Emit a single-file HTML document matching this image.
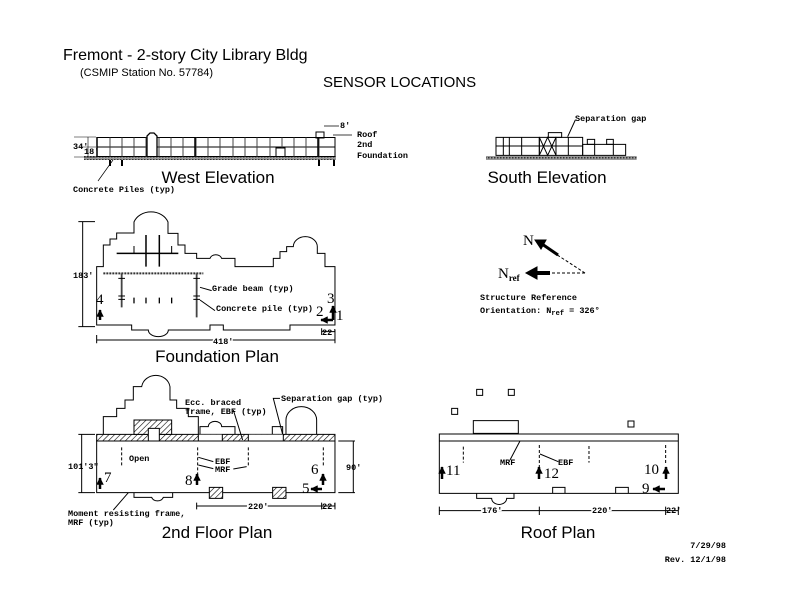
<!DOCTYPE html>
<html><head><meta charset="utf-8"><style>
html,body{margin:0;padding:0;background:#fff}
svg{display:block}
.s{font-family:"Liberation Sans",sans-serif;fill:#000}
.m{font-family:"Liberation Mono",monospace;font-weight:bold;font-size:8.5px;fill:#000}
.n{font-family:"Liberation Serif",serif;font-size:15px;fill:#000}
.z *{vector-effect:non-scaling-stroke}
</style></head><body>
<svg width="792" height="612" viewBox="0 0 792 612" xmlns="http://www.w3.org/2000/svg">
<defs>
<pattern id="h" width="4" height="4" patternUnits="userSpaceOnUse" patternTransform="rotate(45)"><rect width="4" height="4" fill="#fff"/><line x1="0" y1="0" x2="0" y2="4" stroke="#000" stroke-width="1.2"/></pattern>
<pattern id="hz" width="12" height="12" patternUnits="userSpaceOnUse" patternTransform="rotate(45)"><rect width="12" height="12" fill="#fff"/><line x1="0" y1="0" x2="0" y2="12" stroke="#000" stroke-width="3.5"/></pattern>
<pattern id="g" width="3" height="3" patternUnits="userSpaceOnUse"><rect width="3" height="3" fill="#999"/><rect width="1.5" height="1.5" fill="#333"/></pattern>
<pattern id="gz" width="9" height="9" patternUnits="userSpaceOnUse"><rect width="9" height="9" fill="#999"/><rect width="4.5" height="4.5" fill="#333"/></pattern>
<marker id="a" viewBox="0 0 10 10" refX="9" refY="5" markerWidth="3" markerHeight="3" orient="auto"><path d="M0,0L10,5L0,10z" fill="#000"/></marker>
</defs>

<!-- titles -->
<text class="s" x="63" y="60" font-size="16">Fremont - 2-story City Library Bldg</text>
<text class="s" x="80" y="76" font-size="11">(CSMIP Station No. 57784)</text>
<text class="s" x="323" y="87" font-size="15">SENSOR LOCATIONS</text>

<!-- West Elevation -->
<g stroke="#000" fill="none" stroke-width="1">
<rect x="84" y="156" width="252" height="4" fill="url(#g)" stroke="none"/>
<rect x="97" y="137.5" width="238" height="19"/>
<line x1="97" y1="147" x2="335" y2="147"/>
<path d="M110,137.5V156.5M122,137.5V156.5M134,137.5V156.5M146,137.5V156.5M159,137.5V156.5M171,137.5V156.5M183,137.5V156.5M196,137.5V156.5M208,137.5V156.5M220,137.5V156.5M233,137.5V156.5M245,137.5V156.5M257,137.5V156.5M270,137.5V156.5M282,137.5V156.5M294,137.5V156.5M306,137.5V156.5M319,137.5V156.5" stroke="#444"/>
<path d="M147,156V136L150,133H154L157,136V156" fill="#fff" stroke-width="1.3"/>
<rect x="276" y="148" width="9" height="8.5" fill="#fff"/>
<rect x="316" y="132" width="8" height="6"/>
<path d="M110,160V166M122,160V166M319,160V166M334,160V166" stroke-width="2"/>
<path d="M97,137V157M195,137V157M318,138V157" stroke-width="1.5"/>
<path d="M324,126H339M333,135H352" stroke-width="0.8"/>
<path d="M88,137V157M74,137H96M80,147H96M74,157H96" stroke-width="0.6"/>
<line x1="113" y1="160" x2="98" y2="181" stroke-width="0.7"/>
</g>
<text class="m" x="73" y="149">34'</text>
<text class="m" x="84" y="154" font-size="7">18'</text>
<text class="m" x="340" y="128">8'</text>
<text class="m" x="357" y="137">Roof</text>
<text class="m" x="357" y="147">2nd</text>
<text class="m" x="357" y="158">Foundation</text>
<text class="s" x="218" y="183" font-size="17" text-anchor="middle">West Elevation</text>
<text class="m" x="73" y="192">Concrete Piles (typ)</text>

<!-- South elevation -->
<g class="z" transform="translate(470,100) scale(0.3333)" stroke="#000" fill="none" stroke-width="1">
<rect x="48" y="168" width="452" height="12" fill="url(#gz)" stroke="none"/>
<rect x="78" y="112" width="130" height="54"/>
<path d="M100,112V166M118,112V166M155,112V166M78,138H208"/>
<rect x="208" y="112" width="50" height="54"/>
<path d="M208,166L233,112L258,166M208,112L233,166L258,112M208,138H258"/>
<rect x="235" y="98" width="40" height="14"/>
<rect x="258" y="112" width="80" height="54"/>
<path d="M295,112V166M258,138H338"/>
<rect x="338" y="133" width="129" height="33"/>
<rect x="352" y="118" width="22" height="15"/><rect x="410" y="118" width="20" height="15"/>
<path d="M374,133V166M430,133V166"/>
<line x1="316" y1="60" x2="293" y2="110"/>
</g>
<text class="m" x="575" y="121">Separation gap</text>
<text class="s" x="547" y="183" font-size="17" text-anchor="middle">South Elevation</text>

<!-- North arrow -->
<g stroke="#000" fill="none">
<line x1="585" y1="273" x2="545" y2="247" stroke-dasharray="3,2"/>
<line x1="558" y1="255" x2="542" y2="244" stroke-width="3"/>
<path d="M535,240L546,240L541,249z" fill="#000"/>
<line x1="585" y1="273" x2="550" y2="273" stroke-dasharray="3,2"/>
<line x1="550" y1="273" x2="535" y2="273" stroke-width="4"/>
<path d="M526,273L537,267L537,279z" fill="#000"/>
</g>
<text class="n" x="523" y="245">N</text>
<text class="n" x="498" y="278">N<tspan font-size="9" font-weight="bold" dy="3">ref</tspan></text>
<text class="m" x="480" y="300" font-size="9">Structure Reference</text>
<text class="m" x="480" y="313" font-size="9">Orientation: N<tspan font-size="7" dy="2">ref</tspan><tspan dy="-2"> = 326°</tspan></text>

<!-- Foundation Plan -->
<g class="z" transform="translate(60,110) scale(0.3333)" stroke="#000" fill="none" stroke-width="1">
<path d="M110,645V470H130V405H150V387H170V369H222V336A54,45 0 0 1 324,336V370H354V405H375V430H410V445H450A18,14 0 0 1 485,445H525V470H640V445H660V425H680V410H700A36,30 0 0 1 772,410V430H795V470H825V645H690V660H490V645H450V660H325A30,20 0 0 1 265,660H215V645Z" stroke-width="1"/>
<line x1="130" y1="490" x2="430" y2="490" stroke-width="2" stroke-dasharray="2,1" stroke="#333"/>
<line x1="170" y1="430" x2="355" y2="430" stroke-width="1.5"/>
<path d="M258,375V470M298,375V470" stroke-width="1.5"/>
<path d="M222,408V430M335,408V430" stroke-width="1"/>
<path d="M185,490V592M410,490V622" stroke-width="1.8" stroke="#444"/>
<path d="M175,505H195M175,558H195M175,568H195M400,505H420M400,558H420M400,568H420" stroke-width="1"/>
<path d="M222,563V580M258,563V580M298,563V580M335,563V580" stroke-width="1.3"/>
<path d="M420,532L455,542M420,570L465,602" stroke-width="1"/>
<path d="M68,335V650M55,335H105M55,650H105M110,690H825M110,675V700M825,660V700M785,665H825M785,655V675" stroke-width="1"/>
</g>
<text class="m" x="73" y="278">183'</text>
<text class="m" x="212" y="291">Grade beam (typ)</text>
<text class="m" x="216" y="311">Concrete pile (typ)</text>
<text class="m" x="213" y="344" style="paint-order:stroke;stroke:#fff;stroke-width:3">418'</text>
<text class="m" x="322" y="335" font-size="7">22'</text>
<g stroke="#000" stroke-width="2.5" fill="none">
<line x1="100" y1="320" x2="100" y2="310" marker-end="url(#a)"/>
<line x1="333" y1="320" x2="333" y2="306" marker-end="url(#a)"/>
<line x1="333" y1="320" x2="321" y2="320" marker-end="url(#a)"/>
</g>
<text class="n" x="96" y="304">4</text>
<text class="n" x="327" y="303">3</text>
<text class="n" x="316" y="316">2</text>
<text class="n" x="336" y="320">1</text>
<text class="s" x="217" y="362" font-size="17" text-anchor="middle">Foundation Plan</text>

<!-- 2nd Floor Plan -->
<g class="z" transform="translate(60,370) scale(0.3333)" stroke="#000" fill="none" stroke-width="1">
<path d="M130,193V140H170V115H195V90H220V50H245A43,40 0 0 1 330,50V90H350V115H385V140H415V193"/>
<path d="M420,193V170H445A20,16 0 0 1 485,170H525V193M637,193V170H668V193M678,193V150A46,40 0 0 1 770,150V193"/>
<path d="M110,193H825V213H110Z" fill="url(#hz)"/>
<rect x="415" y="194" width="72" height="18" fill="#fff" stroke="none"/>
<rect x="565" y="194" width="105" height="18" fill="#fff" stroke="none"/>
<path d="M415,193V213M487,193V213M565,193V213M670,193V213"/>
<path d="M222,193V150H335V193Z" fill="url(#hz)"/>
<rect x="265" y="175" width="33" height="38" fill="#fff"/>
<rect x="110" y="213" width="715" height="155"/>
<path d="M222,368V382H275A18,14 0 0 0 310,382H338V368"/>
<rect x="448" y="352" width="40" height="33" fill="url(#hz)"/>
<rect x="638" y="352" width="40" height="33" fill="url(#hz)"/>
<path d="M185,232V290M413,232V335M565,232V290M790,232V290" stroke-dasharray="3,2" stroke-width="1"/>
<path d="M415,262L460,275M415,285L460,296M520,297L560,290" stroke-width="1"/>
<path d="M548,210L520,120M668,193L640,85H660" stroke-width="1"/>
<path d="M65,193V368M55,193H105M55,368H105M880,213V368M835,213H885M835,368H885M410,408H785M410,398V418M785,398V418M825,398V418M785,408H825M205,368L160,420" stroke-width="1"/>
</g>
<text class="m" x="185" y="405">Ecc. braced</text>
<text class="m" x="185" y="414">frame, EBF (typ)</text>
<text class="m" x="281" y="401">Separation gap (typ)</text>
<text class="m" x="129" y="461">Open</text>
<text class="m" x="215" y="464" font-size="7">EBF</text>
<text class="m" x="215" y="472" font-size="7">MRF</text>
<text class="m" x="68" y="469">101'3"</text>
<text class="m" x="346" y="470">90'</text>
<text class="m" x="248" y="509" style="paint-order:stroke;stroke:#fff;stroke-width:3">220'</text>
<text class="m" x="322" y="509" font-size="7">22'</text>
<text class="m" x="68" y="516">Moment resisting frame,</text>
<text class="m" x="68" y="525">MRF (typ)</text>
<g stroke="#000" stroke-width="2.5" fill="none">
<line x1="100" y1="489" x2="100" y2="478" marker-end="url(#a)"/>
<line x1="197" y1="485" x2="197" y2="474" marker-end="url(#a)"/>
<line x1="323" y1="485" x2="323" y2="474" marker-end="url(#a)"/>
<line x1="322" y1="489" x2="311" y2="489" marker-end="url(#a)"/>
</g>
<text class="n" x="104" y="482">7</text>
<text class="n" x="185" y="485">8</text>
<text class="n" x="311" y="474">6</text>
<text class="n" x="302" y="493">5</text>
<text class="s" x="217" y="538" font-size="17" text-anchor="middle">2nd Floor Plan</text>

<!-- Roof Plan -->
<g class="z" transform="translate(430,380) scale(0.3333)" stroke="#000" fill="none" stroke-width="1">
<rect x="28" y="162" width="717" height="178"/>
<line x1="28" y1="183" x2="745" y2="183"/>
<rect x="130" y="122" width="135" height="38"/>
<rect x="140" y="28" width="18" height="18"/><rect x="235" y="28" width="18" height="18"/>
<rect x="65" y="85" width="18" height="18"/><rect x="594" y="123" width="18" height="18"/>
<path d="M140,340V355H185A22,18 0 0 0 230,355H252V340M368,340V322H405V340M557,340V322H595V340"/>
<path d="M100,200V248M328,195V300M477,198V248M707,195V255" stroke-dasharray="3,2" stroke-width="1"/>
<path d="M270,183L240,240M330,222L385,245"/>
<path d="M28,392H745M28,380V405M328,380V405M707,380V405M745,380V405"/>
</g>
<text class="m" x="500" y="465" font-size="7">MRF</text>
<text class="m" x="558" y="465" font-size="7">EBF</text>
<text class="m" x="482" y="513" style="paint-order:stroke;stroke:#fff;stroke-width:3">176'</text>
<text class="m" x="592" y="513" style="paint-order:stroke;stroke:#fff;stroke-width:3">220'</text>
<text class="m" x="666" y="513" font-size="7">22'</text>
<g stroke="#000" stroke-width="2.5" fill="none">
<line x1="442" y1="479" x2="442" y2="467" marker-end="url(#a)"/>
<line x1="539" y1="479" x2="539" y2="467" marker-end="url(#a)"/>
<line x1="666" y1="479" x2="666" y2="467" marker-end="url(#a)"/>
<line x1="665" y1="489" x2="653" y2="489" marker-end="url(#a)"/>
</g>
<text class="n" x="446" y="475">11</text>
<text class="n" x="544" y="478">12</text>
<text class="n" x="644" y="474">10</text>
<text class="n" x="642" y="493">9</text>
<text class="s" x="558" y="538" font-size="17" text-anchor="middle">Roof Plan</text>

<text class="m" x="726" y="548" font-size="9.5" text-anchor="end">7/29/98</text>
<text class="m" x="726" y="562" font-size="9.5" text-anchor="end">Rev. 12/1/98</text>
</svg>
</body></html>
